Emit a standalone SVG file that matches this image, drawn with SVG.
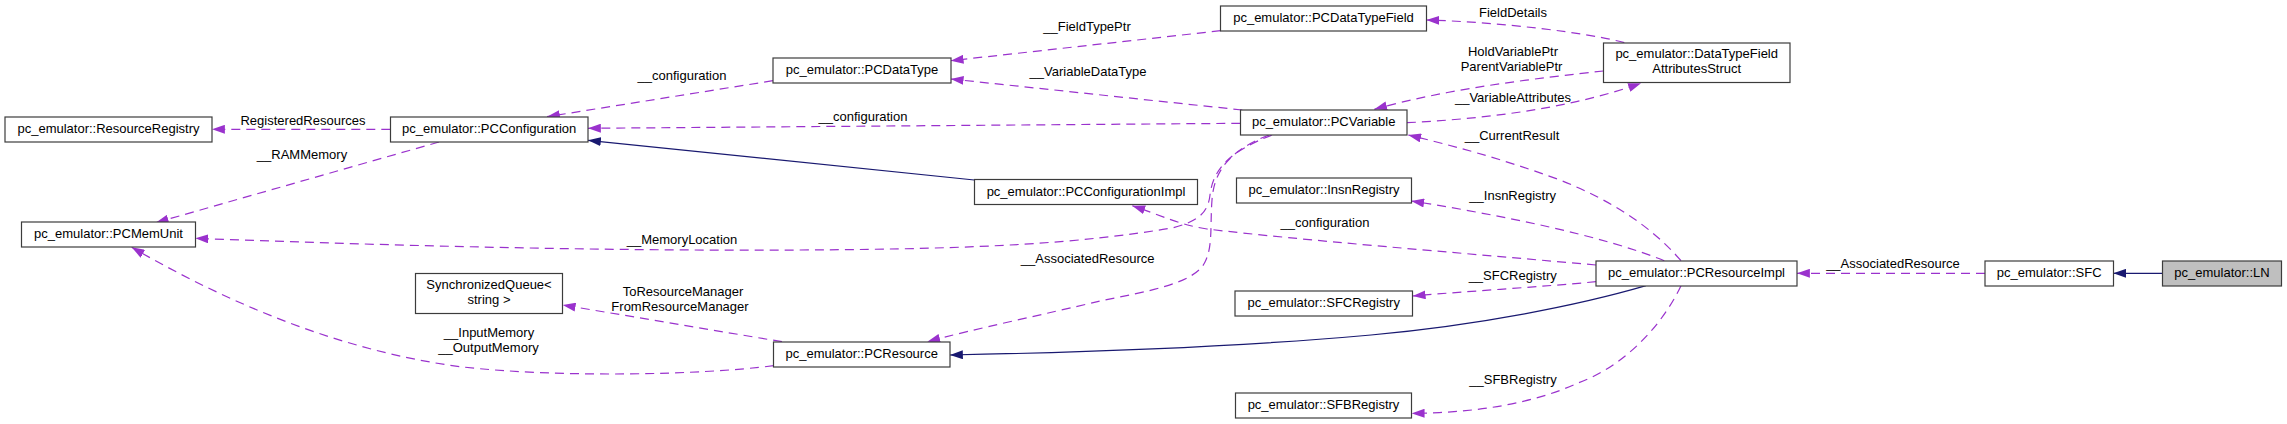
<svg xmlns="http://www.w3.org/2000/svg" width="2287" height="424" viewBox="0 0 2287 424">
<style>
.n rect{fill:#fff;stroke:#3c3c3c;stroke-width:1.2}
.n.cur rect{fill:#bfbfbf}
text{font-family:"Liberation Sans",Arial,sans-serif;font-size:13px;fill:#000}
.n text{text-anchor:middle}
.l text{text-anchor:middle}
.u{fill:none;stroke:#9a32cd;stroke-width:1.2;stroke-dasharray:9,6;marker-end:url(#ap)}
.i{fill:none;stroke:#191970;stroke-width:1.2;marker-end:url(#ab)}
</style>
<defs>
<marker id="ap" viewBox="0 0 10 7" refX="10" refY="3.5" markerWidth="13" markerHeight="9" markerUnits="userSpaceOnUse" orient="auto"><path d="M0,0 L10,3.5 L0,7 z" fill="#9a32cd"/></marker>
<marker id="ab" viewBox="0 0 10 7" refX="10" refY="3.5" markerWidth="13" markerHeight="9" markerUnits="userSpaceOnUse" orient="auto"><path d="M0,0 L10,3.5 L0,7 z" fill="#191970"/></marker>
</defs>
<rect width="2287" height="424" fill="#fff"/>
<g id="edges">
<path class="u" d="M390.3,129.3 L212,129.3"/>
<path class="u" d="M439,142 L155.7,222.7"/>
<path class="u" d="M773,80.7 L547,116.7"/>
<path class="u" d="M1240.3,123.3 L588,128.3"/>
<path class="i" d="M974.3,180 L588,140.3"/>
<path class="u" d="M1272,135 C1228,152 1213,170 1210,195 C1208,214 1196,222 1172,228 C1080,243 990,249 800,250 C600,251 400,246 195.3,238.3"/>
<path class="u" d="M1269,135 C1228,151 1214,172 1212,200 C1210,226 1213,246 1205,262 C1195,283 1150,291 1100,301 C1050,313 970,330 927.3,341.7"/>
<path class="u" d="M1220.7,30.7 L950.7,60.7"/>
<path class="u" d="M1242.3,110 L950.7,79"/>
<path class="u" d="M1624.3,42.7 C1590,33 1500,22 1426.3,20"/>
<path class="u" d="M1603.3,71 C1540,78 1450,88 1374.3,109.3"/>
<path class="u" d="M1407,122.7 C1480,119 1565,110 1641,83.3"/>
<path class="u" d="M1681,260.7 C1650,225 1610,200 1560,180 C1500,158 1450,145 1408.3,135"/>
<path class="u" d="M1664.3,260.7 C1600,235 1500,215 1411.3,201"/>
<path class="u" d="M1596,265 C1450,252 1300,240 1207,229 C1180,225 1160,215 1132.3,205.7"/>
<path class="u" d="M1596,281.7 C1540,287 1470,291 1412.7,296"/>
<path class="i" d="M1646,285.7 C1580,305 1480,325 1371,335 C1250,346 1100,352 950,355"/>
<path class="u" d="M1681,285.7 C1660,330 1620,368 1578,383 C1530,405 1470,413 1411.7,413.3"/>
<path class="u" d="M1985,273.3 L1797,273.3"/>
<path class="i" d="M2162.3,273.3 L2113.3,273.3"/>
<path class="u" d="M782,341.7 L562.7,305"/>
<path class="u" d="M773.7,365.7 C700,375 560,378 460,366.7 C350,352 240,310 131.7,247.3"/>
</g>
<g id="labels" class="l">
<text x="303" y="125">RegisteredResources</text>
<text x="302" y="159.3">__RAMMemory</text>
<text x="682" y="80">__configuration</text>
<text x="863" y="120.7">__configuration</text>
<text x="682" y="244.3">__MemoryLocation</text>
<text x="683" y="296">ToResourceManager</text>
<text x="680" y="310.7">FromResourceManager</text>
<text x="489" y="336.7">__InputMemory</text>
<text x="488.5" y="351.7">__OutputMemory</text>
<text x="1087" y="30.7">__FieldTypePtr</text>
<text x="1088" y="76">__VariableDataType</text>
<text x="1087.7" y="263.3">__AssociatedResource</text>
<text x="1325" y="226.7">__configuration</text>
<text x="1513" y="16.7">FieldDetails</text>
<text x="1513" y="55.7">HoldVariablePtr</text>
<text x="1511.5" y="70.7">ParentVariablePtr</text>
<text x="1513" y="102.3">__VariableAttributes</text>
<text x="1512" y="140">__CurrentResult</text>
<text x="1512.7" y="200">__InsnRegistry</text>
<text x="1512.7" y="280">__SFCRegistry</text>
<text x="1513" y="384">__SFBRegistry</text>
<text x="1893" y="268.3">__AssociatedResource</text>
</g>
<g id="ResourceRegistry" class="n"><rect x="5" y="117" width="207" height="25"/><text x="108.5" y="133">pc_emulator::ResourceRegistry</text></g>
<g id="PCConfiguration" class="n"><rect x="390.5" y="117" width="197.5" height="25"/><text x="489.2" y="133">pc_emulator::PCConfiguration</text></g>
<g id="PCMemUnit" class="n"><rect x="21.5" y="222" width="174" height="25"/><text x="108.5" y="238">pc_emulator::PCMemUnit</text></g>
<g id="SynchronizedQueue" class="n"><rect x="415.5" y="273.5" width="147" height="40"/><text x="489" y="288.7">SynchronizedQueue&lt;</text><text x="489" y="303.7">string &gt;</text></g>
<g id="PCDataType" class="n"><rect x="773" y="58" width="178" height="25"/><text x="862" y="74">pc_emulator::PCDataType</text></g>
<g id="PCDataTypeField" class="n"><rect x="1220.5" y="6" width="206" height="25"/><text x="1323.5" y="22">pc_emulator::PCDataTypeField</text></g>
<g id="PCVariable" class="n"><rect x="1240.5" y="110" width="166.5" height="25"/><text x="1323.7" y="126">pc_emulator::PCVariable</text></g>
<g id="PCConfigurationImpl" class="n"><rect x="974.5" y="179.5" width="223" height="25"/><text x="1086" y="195.5">pc_emulator::PCConfigurationImpl</text></g>
<g id="InsnRegistry" class="n"><rect x="1236.5" y="178" width="175" height="25"/><text x="1324" y="194">pc_emulator::InsnRegistry</text></g>
<g id="DataTypeFieldAttributesStruct" class="n"><rect x="1603.5" y="43" width="186.5" height="39.5"/><text x="1696.7" y="58.3">pc_emulator::DataTypeField</text><text x="1696.7" y="72.7">AttributesStruct</text></g>
<g id="PCResource" class="n"><rect x="773.5" y="342" width="176.5" height="25"/><text x="861.7" y="358">pc_emulator::PCResource</text></g>
<g id="SFCRegistry" class="n"><rect x="1235" y="291" width="177.5" height="25"/><text x="1323.7" y="307">pc_emulator::SFCRegistry</text></g>
<g id="SFBRegistry" class="n"><rect x="1235.5" y="393" width="176" height="25"/><text x="1323.5" y="409">pc_emulator::SFBRegistry</text></g>
<g id="PCResourceImpl" class="n"><rect x="1596" y="261" width="201" height="25"/><text x="1696.5" y="277">pc_emulator::PCResourceImpl</text></g>
<g id="SFC" class="n"><rect x="1985" y="261" width="128.5" height="25"/><text x="2049.2" y="277">pc_emulator::SFC</text></g>
<g id="LN" class="n cur"><rect x="2162.5" y="261" width="119" height="25"/><text x="2222" y="277">pc_emulator::LN</text></g>
</svg>
